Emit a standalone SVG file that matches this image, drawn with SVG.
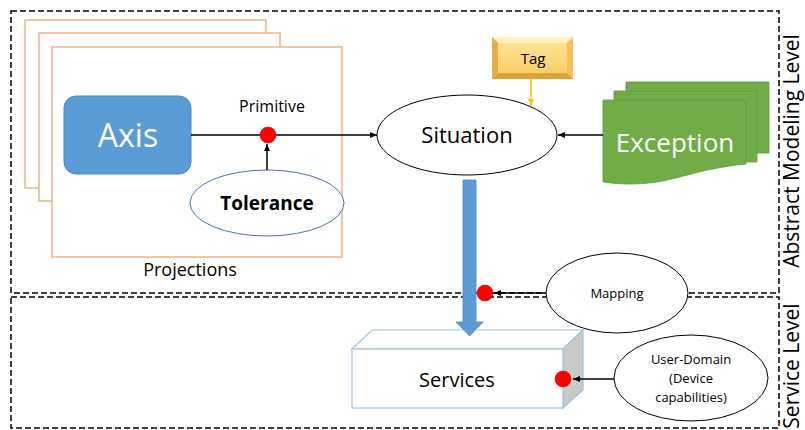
<svg xmlns="http://www.w3.org/2000/svg" width="805" height="430" viewBox="0 0 805 430">
<defs>
<style>
.dash{fill:none;stroke:#000;stroke-width:1.5;stroke-dasharray:6 3}
.proj{fill:#fff;stroke:#F4B183;stroke-width:1.5}
.ell{fill:#fff;stroke:#000;stroke-width:1}
.t{font-family:"Open Sans","Liberation Sans",sans-serif;fill:#000;text-anchor:middle}
.w{fill:#fff}
.con{stroke:#000;stroke-width:1.5;fill:none}
.dot{fill:#FF0000;stroke:#C00000;stroke-width:0.5}
.exc{fill:#70AD47;stroke:#5E9A3A;stroke-width:0.8}
</style>
<marker id="ah" markerWidth="8" markerHeight="8" refX="7" refY="4" orient="auto" markerUnits="userSpaceOnUse"><path d="M0,1 L7,4 L0,7 Z" fill="#000"/></marker>
<marker id="aho" markerWidth="8" markerHeight="8" refX="7" refY="4" orient="auto" markerUnits="userSpaceOnUse"><path d="M0,1 L7,4 L0,7 Z" fill="#FFC000"/></marker>
<linearGradient id="gold" x1="0" y1="0" x2="0" y2="1"><stop offset="0" stop-color="#FFE69A"/><stop offset="1" stop-color="#FACB62"/></linearGradient>
</defs>

<g id="levels">
<rect class="dash" x="11" y="11" width="768" height="282"/>
<rect class="dash" x="11" y="297" width="768" height="131"/>
<text class="t" font-size="21" transform="translate(799,151) rotate(-90)">Abstract Modeling Level</text>
<text class="t" font-size="21" transform="translate(799,366) rotate(-90)">Service Level</text>
</g>

<g id="projections">
<rect class="proj" x="25" y="20" width="241" height="168"/>
<rect class="proj" x="39" y="33" width="241" height="168"/>
<rect class="proj" x="52" y="47" width="290" height="210"/>
<text class="t" font-size="18" x="190" y="276">Projections</text>
</g>

<g id="axis">
<rect x="64" y="96" width="127" height="78" rx="12" fill="#5B9BD5" stroke="#4A89C4" stroke-width="1"/>
<text class="t w" font-size="32" x="128" y="147">Axis</text>
</g>

<g id="tolerance">
<ellipse cx="267" cy="203" rx="77" ry="33" fill="#fff" stroke="#4472C4" stroke-width="1"/>
<text class="t" font-size="19" font-weight="bold" x="267" y="210">Tolerance</text>
</g>

<g id="situation">
<ellipse class="ell" cx="467" cy="135" rx="90" ry="40"/>
<text class="t" font-size="22" x="467" y="143">Situation</text>
</g>

<g id="tag">
<rect x="492" y="37" width="81" height="42" fill="url(#gold)"/>
<path d="M492,37 H573 L567,43 H498 Z" fill="#FFF0BF"/>
<path d="M492,37 L498,43 V73 L492,79 Z" fill="#E5AF45"/>
<path d="M573,37 L567,43 V73 L573,79 Z" fill="#F3C25C"/>
<path d="M492,79 L498,73 H567 L573,79 Z" fill="#DDA236"/>
<text class="t" font-size="15" x="533" y="64">Tag</text>
</g>

<g id="exception">
<path class="exc" d="M626,82 H769 V153 H626 Z"/>
<path class="exc" d="M614,91 H757 V162 H614 Z"/>
<path class="exc" d="M603,100 H746 V164 C725,166 705,170 680,177 C655,184 630,186 603,182 Z"/>
<text class="t w" font-size="26" x="675" y="152">Exception</text>
</g>

<g id="mapping">
<ellipse class="ell" cx="617" cy="293" rx="71" ry="40"/>
<text class="t" font-size="13" x="617" y="298">Mapping</text>
</g>

<g id="services">
<path d="M352,349 L372,330 H583 L563,349 Z" fill="#fff" stroke="#9DC3E6" stroke-width="1.2"/>
<path d="M563,349 L583,330 V390 L563,408 Z" fill="#C9C9C9" stroke="#9DC3E6" stroke-width="1.2"/>
<rect x="352" y="349" width="211" height="59" fill="#fff" stroke="#9DC3E6" stroke-width="1.2"/>
<text class="t" font-size="20" x="457" y="387">Services</text>
</g>

<g id="userdomain">
<ellipse class="ell" cx="691" cy="378" rx="77" ry="43"/>
<text class="t" font-size="13" x="691" y="364">User-Domain</text>
<text class="t" font-size="13" x="691" y="383">(Device</text>
<text class="t" font-size="13" x="691" y="402">capabilities)</text>
</g>

<g id="connectors">
<line class="con" x1="191" y1="135" x2="377" y2="135" marker-end="url(#ah)"/>
<line class="con" x1="267" y1="170" x2="267" y2="144" marker-end="url(#ah)"/>
<line x1="531" y1="79" x2="531" y2="106" stroke="#FFC000" stroke-width="1.5" marker-end="url(#aho)"/>
<line class="con" x1="603" y1="135" x2="558" y2="135" marker-end="url(#ah)"/>
<path d="M463,180 H476 V322 H483 L469.5,336 L456,322 H463 Z" fill="#5B9BD5" stroke="#4A89C4" stroke-width="0.8"/>
<line class="con" x1="546" y1="293" x2="494" y2="293" marker-end="url(#ah)"/>
<line class="con" x1="614" y1="379" x2="573" y2="379" marker-end="url(#ah)"/>
</g>

<g id="primitive">
<text class="t" font-size="16" x="272" y="112">Primitive</text>
<circle class="dot" cx="268" cy="135" r="8"/>
</g>

<g id="junctions">
<circle class="dot" cx="485" cy="293" r="8"/>
<circle class="dot" cx="563" cy="379" r="8"/>
</g>
</svg>
